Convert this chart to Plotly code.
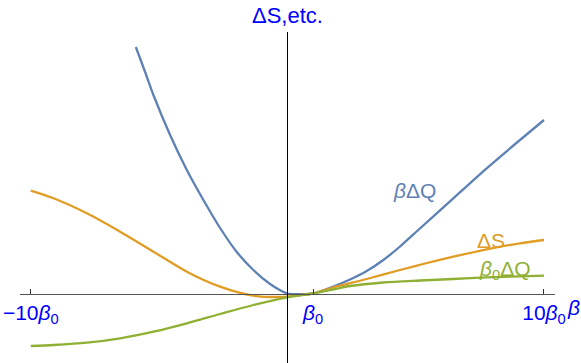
import plotly.graph_objects as go

# beta in units of beta0
beta_dq_x = [-5.906, -5.544, -5.22, -4.57, -3.919, -3.272, -2.622, -1.971, -1.325, -0.674, -0.3, 0.0, 0.5, 1.0,
             1.792, 2.443, 3.093, 3.74, 4.39, 5.1, 6.467, 7.768, 9.065, 10.0]
beta_dq_y = [4.93, 4.43, 3.97, 3.17, 2.47, 1.87, 1.31, 0.83, 0.47, 0.19, 0.07, 0.0, -0.015, 0.0,
             0.14, 0.28, 0.45, 0.67, 0.94, 1.27, 1.904, 2.504, 3.07, 3.47]

ds_x = [-10.0, -9.116, -7.815, -6.518, -5.22, -3.919, -2.622, -1.325, -0.284, 0.0, 0.5, 1.0,
        1.78, 3.093, 4.39, 5.364, 6.467, 7.768, 9.065, 10.0]
ds_y = [2.056, 1.904, 1.604, 1.236, 0.836, 0.436, 0.136, -0.044, -0.07, -0.06, -0.03, 0.0,
        0.12, 0.29, 0.47, 0.6, 0.736, 0.884, 1.004, 1.07]

b0dq_x = [-10.0, -9.116, -7.815, -6.518, -5.22, -3.919, -2.622, -1.325, 0.0, 1.0,
          1.78, 2.443, 3.74, 5.17, 6.467, 7.768, 9.065, 10.0]
b0dq_y = [-1.05, -1.03, -0.984, -0.896, -0.764, -0.596, -0.41, -0.23, -0.076, 0.0,
          0.08, 0.15, 0.22, 0.26, 0.29, 0.322, 0.344, 0.356]

tick_vals = [-10, 1, 10]
tick_text = ["−10<i>β</i><sub>0</sub>", "<i>β</i><sub>0</sub>", "10<i>β</i><sub>0</sub>"]

X_RANGE = [-10.42, 10.43]
Y_RANGE = [-1.39, 5.23]

C_BLUE = "#5E81B5"
C_ORANGE = "#E19C24"
C_GREEN = "#8FB032"
LABEL_BLUE = "#0000FF"
FONT = "Liberation Sans"

fig = go.Figure()
for xs, ys, c in [(beta_dq_x, beta_dq_y, C_BLUE), (ds_x, ds_y, C_ORANGE), (b0dq_x, b0dq_y, C_GREEN)]:
    fig.add_trace(go.Scatter(x=xs, y=ys, mode="lines", line=dict(color=c, width=2.3, shape="spline", smoothing=0.8),
                             showlegend=False, hoverinfo="skip"))

xpos = (0 - Y_RANGE[0]) / (Y_RANGE[1] - Y_RANGE[0])
ypos = (0 - X_RANGE[0]) / (X_RANGE[1] - X_RANGE[0])

fig.update_layout(
    width=581, height=363,
    margin=dict(l=20, r=26, t=32, b=0),
    plot_bgcolor="white", paper_bgcolor="white",
    font=dict(family=FONT),
    xaxis=dict(range=X_RANGE, anchor="free", position=xpos, showline=True, linecolor="#555555", linewidth=1,
               automargin=False,
               showgrid=False, zeroline=False, ticks="inside", ticklen=5, tickwidth=1, tickcolor="#333333",
               tickvals=tick_vals, ticktext=tick_text, tickfont=dict(size=21, color=LABEL_BLUE, family=FONT)),
    yaxis=dict(range=Y_RANGE, anchor="free", position=ypos, showline=True, linecolor="black", linewidth=1,
               automargin=False,
               showgrid=False, zeroline=False, ticks="", showticklabels=False),
    annotations=[
        dict(text="ΔS,etc.", xref="x", x=0, yref="paper", y=1, yanchor="bottom", xanchor="center",
             yshift=2, showarrow=False, font=dict(size=22, color=LABEL_BLUE)),
        dict(text="<i>β</i>", xref="paper", x=1, yref="y", y=0, xanchor="left", yanchor="middle",
             xshift=10, yshift=-14, showarrow=False, font=dict(size=21, color=LABEL_BLUE)),
        dict(text="<i>β</i>ΔQ", x=4.95, y=2.07, showarrow=False, font=dict(size=21, color=C_BLUE)),
        dict(text="ΔS", x=7.95, y=1.06, showarrow=False, font=dict(size=21, color=C_ORANGE)),
        dict(text="<i>β</i><sub>0</sub>ΔQ", x=8.5, y=0.48, showarrow=False, font=dict(size=21, color=C_GREEN)),
    ],
)

fig.write_html("out.html", post_script="document.body.style.margin='0px';",
               config={"displayModeBar": False})
